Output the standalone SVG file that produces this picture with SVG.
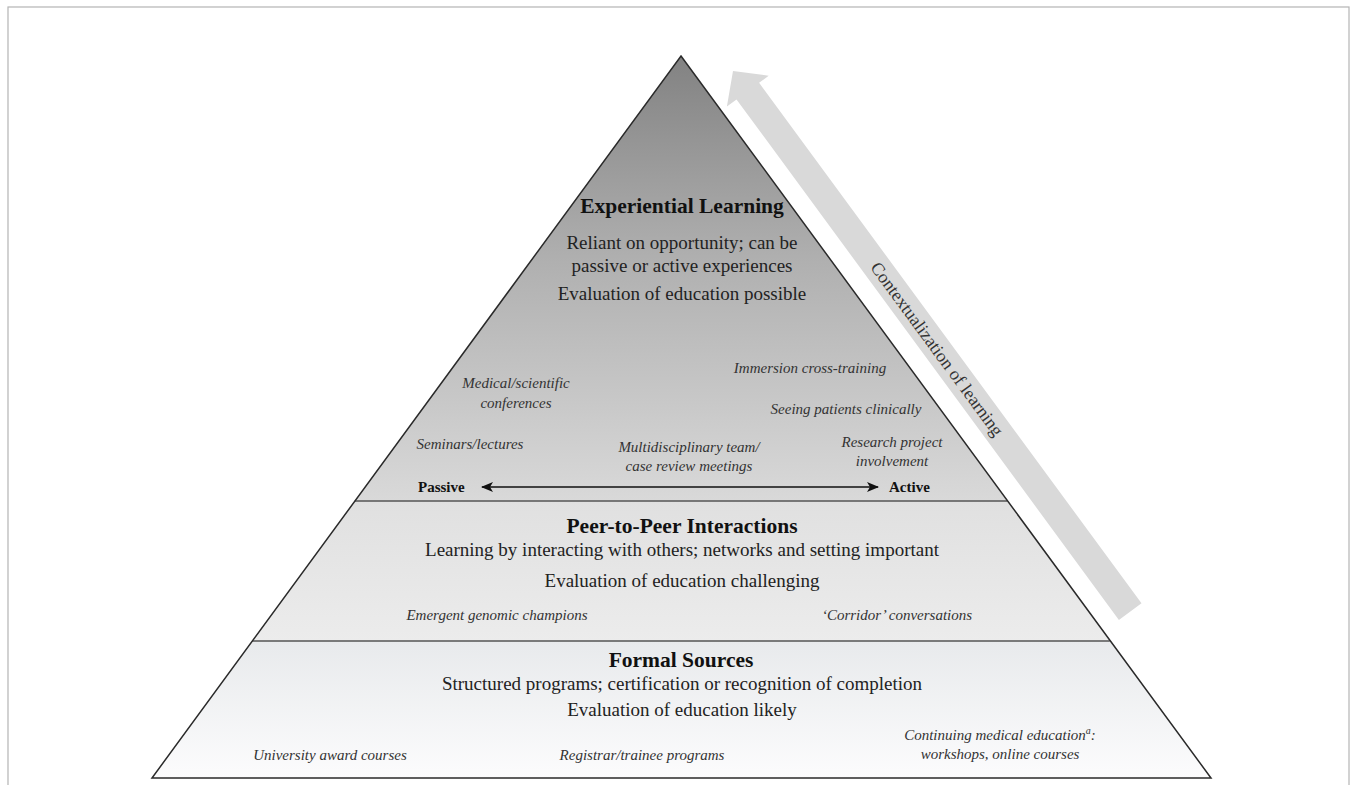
<svg xmlns="http://www.w3.org/2000/svg" width="1356" height="785" viewBox="0 0 1356 785">
  <defs>
    <linearGradient id="gTop" x1="0" y1="56" x2="0" y2="501" gradientUnits="userSpaceOnUse">
      <stop offset="0" stop-color="#828282"/>
      <stop offset="0.45" stop-color="#afafaf"/>
      <stop offset="1" stop-color="#d9d9d9"/>
    </linearGradient>
    <linearGradient id="gMid" x1="0" y1="501" x2="0" y2="641" gradientUnits="userSpaceOnUse">
      <stop offset="0" stop-color="#e0e0e0"/>
      <stop offset="1" stop-color="#ececec"/>
    </linearGradient>
    <linearGradient id="gLow" x1="0" y1="641" x2="0" y2="778" gradientUnits="userSpaceOnUse">
      <stop offset="0" stop-color="#e8eaec"/>
      <stop offset="1" stop-color="#fcfcfd"/>
    </linearGradient>
    <marker id="head" viewBox="0 0 12 10" refX="11" refY="5" markerWidth="12" markerHeight="10" markerUnits="userSpaceOnUse" orient="auto-start-reverse">
      <path d="M0,0 L12,5 L0,10 L3,5 z" fill="#111"/>
    </marker>
    <style>
      text { font-family: "Liberation Serif", "Times New Roman", serif; fill: #222; }
      .head { font-size: 21.5px; font-weight: bold; fill: #111; text-anchor: middle; }
      .body { font-size: 19px; text-anchor: middle; }
      .ex { font-size: 15px; font-style: italic; fill: #333; text-anchor: middle; }
      .pole { font-size: 15px; font-weight: bold; fill: #111; }
      .sep { stroke: #555; stroke-width: 1.5; }
      .ctx { font-size: 18px; fill: #333; text-anchor: middle; }
    </style>
  </defs>

  <!-- page frame -->
  <rect x="8" y="7" width="1341" height="800" fill="#ffffff" stroke="#b4b4b4" stroke-width="1.2"/>

  <!-- contextualization arrow running up beside the right slope -->
  <g id="context-arrow">
    <polygon points="733,71 768.7,75.7 759.1,82.8 1141.5,603.3 1118.9,619.9 736.5,99.4 726.9,106.5" fill="#d9d9d9"/>
    <text class="ctx" transform="translate(937,349) rotate(53.7)" y="6">Contextualization of learning</text>
  </g>

  <!-- pyramid tiers -->
  <g id="tier-experiential">
    <polygon points="681,56 1007.2,501 354.8,501" fill="url(#gTop)"/>
    <text class="head" x="682" y="213">Experiential Learning</text>
    <text class="body" x="682" y="249">Reliant on opportunity; can be</text>
    <text class="body" x="682" y="272">passive or active experiences</text>
    <text class="body" x="682" y="300">Evaluation of education possible</text>
    <text class="ex" x="516" y="388">Medical/scientific</text>
    <text class="ex" x="516" y="408">conferences</text>
    <text class="ex" x="810" y="373">Immersion cross-training</text>
    <text class="ex" x="846" y="414">Seeing patients clinically</text>
    <text class="ex" x="470" y="449">Seminars/lectures</text>
    <text class="ex" x="689" y="452">Multidisciplinary team/</text>
    <text class="ex" x="689" y="471">case review meetings</text>
    <text class="ex" x="892" y="447">Research project</text>
    <text class="ex" x="892" y="466">involvement</text>
    <text class="pole" x="418" y="492">Passive</text>
    <text class="pole" x="889" y="492">Active</text>
  </g>

  <g id="tier-peer">
    <polygon points="354.8,501 1007.2,501 1109.8,641 252.2,641" fill="url(#gMid)"/>
    <text class="head" x="682" y="533">Peer-to-Peer Interactions</text>
    <text class="body" x="682" y="556">Learning by interacting with others; networks and setting important</text>
    <text class="body" x="682" y="587">Evaluation of education challenging</text>
    <text class="ex" x="497" y="620">Emergent genomic champions</text>
    <text class="ex" x="897" y="620">‘Corridor’ conversations</text>
  </g>

  <g id="tier-formal">
    <polygon points="252.2,641 1109.8,641 1211,778 152,778" fill="url(#gLow)"/>
    <text class="head" x="681" y="667">Formal Sources</text>
    <text class="body" x="682" y="690">Structured programs; certification or recognition of completion</text>
    <text class="body" x="682" y="716">Evaluation of education likely</text>
    <text class="ex" x="330" y="760">University award courses</text>
    <text class="ex" x="642" y="760">Registrar/trainee programs</text>
    <text class="ex" x="1000" y="740">Continuing medical education<tspan font-size="10" dy="-6">a</tspan><tspan dy="6">:</tspan></text>
    <text class="ex" x="1000" y="759">workshops, online courses</text>
  </g>

  <!-- outlines, dividers and the passive/active axis -->
  <g id="connectors">
    <line class="sep" x1="354.8" y1="501" x2="1007.2" y2="501"/>
    <line class="sep" x1="252.2" y1="641" x2="1109.8" y2="641"/>
    <polygon points="681,56 1211,778 152,778" fill="none" stroke="#2a2a2a" stroke-width="1.5" stroke-linejoin="miter"/>
    <line x1="482" y1="487" x2="878" y2="487" stroke="#111" stroke-width="1.6" marker-start="url(#head)" marker-end="url(#head)"/>
  </g>
</svg>
